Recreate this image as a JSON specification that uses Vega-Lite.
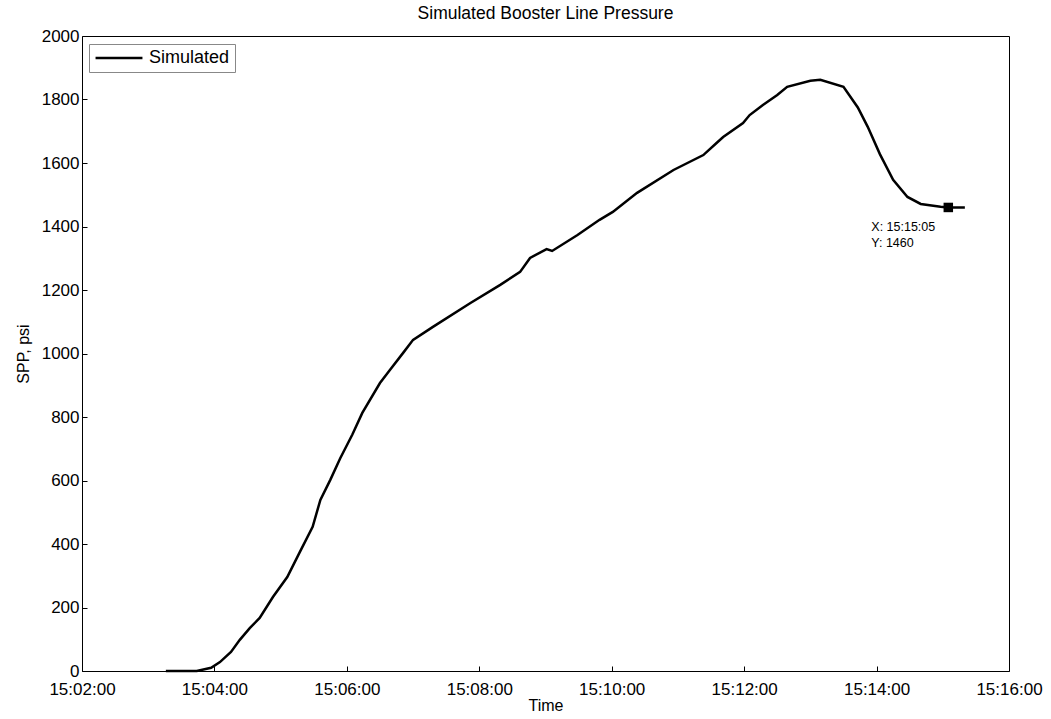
{
  "$schema": "https://vega.github.io/schema/vega-lite/v6.json",
  "width": 927,
  "height": 635,
  "autosize": "none",
  "padding": {"left": 82, "top": 36, "right": 42, "bottom": 48},
  "background": "white",
  "config": {
    "font": "Liberation Sans",
    "view": {"stroke": "black", "strokeWidth": 1},
    "axis": {"grid": false, "domain": false, "labelColor": "black", "titleColor": "black", "tickColor": "black", "labelFontSize": 17, "titleFontSize": 16, "titleFontWeight": "normal"}
  },
  "title": {"text": "Simulated Booster Line Pressure", "fontSize": 17.5, "fontWeight": "normal", "offset": 5, "anchor": "middle", "color": "black"},
  "datasets": {
    "sim": [
      {"time": "2000-01-01T15:03:16Z", "psi": 0, "series": "Simulated"},
      {"time": "2000-01-01T15:03:44Z", "psi": 0, "series": "Simulated"},
      {"time": "2000-01-01T15:03:57Z", "psi": 10, "series": "Simulated"},
      {"time": "2000-01-01T15:04:05Z", "psi": 28, "series": "Simulated"},
      {"time": "2000-01-01T15:04:15Z", "psi": 60, "series": "Simulated"},
      {"time": "2000-01-01T15:04:23Z", "psi": 98, "series": "Simulated"},
      {"time": "2000-01-01T15:04:32Z", "psi": 135, "series": "Simulated"},
      {"time": "2000-01-01T15:04:41Z", "psi": 167, "series": "Simulated"},
      {"time": "2000-01-01T15:04:53Z", "psi": 233, "series": "Simulated"},
      {"time": "2000-01-01T15:05:06Z", "psi": 296, "series": "Simulated"},
      {"time": "2000-01-01T15:05:17Z", "psi": 372, "series": "Simulated"},
      {"time": "2000-01-01T15:05:29Z", "psi": 454, "series": "Simulated"},
      {"time": "2000-01-01T15:05:36Z", "psi": 539, "series": "Simulated"},
      {"time": "2000-01-01T15:05:45Z", "psi": 602, "series": "Simulated"},
      {"time": "2000-01-01T15:05:54Z", "psi": 670, "series": "Simulated"},
      {"time": "2000-01-01T15:06:05Z", "psi": 745, "series": "Simulated"},
      {"time": "2000-01-01T15:06:14Z", "psi": 813, "series": "Simulated"},
      {"time": "2000-01-01T15:06:30Z", "psi": 907, "series": "Simulated"},
      {"time": "2000-01-01T15:06:39Z", "psi": 948, "series": "Simulated"},
      {"time": "2000-01-01T15:06:51Z", "psi": 1002, "series": "Simulated"},
      {"time": "2000-01-01T15:07:00Z", "psi": 1043, "series": "Simulated"},
      {"time": "2000-01-01T15:07:18Z", "psi": 1084, "series": "Simulated"},
      {"time": "2000-01-01T15:07:52Z", "psi": 1159, "series": "Simulated"},
      {"time": "2000-01-01T15:08:19Z", "psi": 1216, "series": "Simulated"},
      {"time": "2000-01-01T15:08:37Z", "psi": 1257, "series": "Simulated"},
      {"time": "2000-01-01T15:08:46Z", "psi": 1301, "series": "Simulated"},
      {"time": "2000-01-01T15:09:01Z", "psi": 1329, "series": "Simulated"},
      {"time": "2000-01-01T15:09:06Z", "psi": 1323, "series": "Simulated"},
      {"time": "2000-01-01T15:09:29Z", "psi": 1373, "series": "Simulated"},
      {"time": "2000-01-01T15:09:49Z", "psi": 1421, "series": "Simulated"},
      {"time": "2000-01-01T15:10:01Z", "psi": 1446, "series": "Simulated"},
      {"time": "2000-01-01T15:10:23Z", "psi": 1506, "series": "Simulated"},
      {"time": "2000-01-01T15:10:56Z", "psi": 1578, "series": "Simulated"},
      {"time": "2000-01-01T15:11:23Z", "psi": 1625, "series": "Simulated"},
      {"time": "2000-01-01T15:11:35Z", "psi": 1663, "series": "Simulated"},
      {"time": "2000-01-01T15:11:41Z", "psi": 1682, "series": "Simulated"},
      {"time": "2000-01-01T15:11:59Z", "psi": 1726, "series": "Simulated"},
      {"time": "2000-01-01T15:12:05Z", "psi": 1751, "series": "Simulated"},
      {"time": "2000-01-01T15:12:17Z", "psi": 1783, "series": "Simulated"},
      {"time": "2000-01-01T15:12:30Z", "psi": 1814, "series": "Simulated"},
      {"time": "2000-01-01T15:12:39Z", "psi": 1840, "series": "Simulated"},
      {"time": "2000-01-01T15:13:00Z", "psi": 1859, "series": "Simulated"},
      {"time": "2000-01-01T15:13:09Z", "psi": 1862, "series": "Simulated"},
      {"time": "2000-01-01T15:13:30Z", "psi": 1840, "series": "Simulated"},
      {"time": "2000-01-01T15:13:43Z", "psi": 1775, "series": "Simulated"},
      {"time": "2000-01-01T15:13:52Z", "psi": 1714, "series": "Simulated"},
      {"time": "2000-01-01T15:14:03Z", "psi": 1628, "series": "Simulated"},
      {"time": "2000-01-01T15:14:15Z", "psi": 1547, "series": "Simulated"},
      {"time": "2000-01-01T15:14:28Z", "psi": 1493, "series": "Simulated"},
      {"time": "2000-01-01T15:14:40Z", "psi": 1471, "series": "Simulated"},
      {"time": "2000-01-01T15:14:58Z", "psi": 1462, "series": "Simulated"},
      {"time": "2000-01-01T15:15:05Z", "psi": 1460, "series": "Simulated"},
      {"time": "2000-01-01T15:15:20Z", "psi": 1460, "series": "Simulated"}
    ],
    "tip": [
      {"time": "2000-01-01T15:15:05Z", "psi": 1460, "label": "X: 15:15:05\nY: 1460"}
    ]
  },
  "layer": [
    {
      "data": {"name": "sim"},
      "mark": {"type": "line", "strokeWidth": 2.5},
      "encoding": {
        "x": {
          "field": "time", "type": "temporal",
          "scale": {"type": "utc", "domain": [
            {"year": 2000, "month": 1, "date": 1, "hours": 15, "minutes": 2, "utc": true},
            {"year": 2000, "month": 1, "date": 1, "hours": 15, "minutes": 16, "utc": true}
          ]},
          "axis": {
            "title": "Time",
            "labelExpr": "utcFormat(datum.value, '%H:%M:%S')",
            "values": [
              {"year": 2000, "month": 1, "date": 1, "hours": 15, "minutes": 2, "utc": true},
              {"year": 2000, "month": 1, "date": 1, "hours": 15, "minutes": 4, "utc": true},
              {"year": 2000, "month": 1, "date": 1, "hours": 15, "minutes": 6, "utc": true},
              {"year": 2000, "month": 1, "date": 1, "hours": 15, "minutes": 8, "utc": true},
              {"year": 2000, "month": 1, "date": 1, "hours": 15, "minutes": 10, "utc": true},
              {"year": 2000, "month": 1, "date": 1, "hours": 15, "minutes": 12, "utc": true},
              {"year": 2000, "month": 1, "date": 1, "hours": 15, "minutes": 14, "utc": true},
              {"year": 2000, "month": 1, "date": 1, "hours": 15, "minutes": 16, "utc": true}
            ],
            "tickSize": -5, "labelPadding": 15, "labelFlush": false, "labelOverlap": false, "titlePadding": 0
          }
        },
        "y": {
          "field": "psi", "type": "quantitative",
          "scale": {"domain": [0, 2000], "nice": false, "zero": true},
          "axis": {"title": "SPP, psi", "format": "d", "values": [0, 200, 400, 600, 800, 1000, 1200, 1400, 1600, 1800, 2000], "tickSize": -5, "labelPadding": 8, "titlePadding": 10}
        },
        "color": {
          "field": "series", "type": "nominal",
          "scale": {"range": ["black"]},
          "legend": {
            "title": null, "orient": "none", "legendX": 7, "legendY": 8,
            "symbolType": "stroke", "symbolSize": 2200, "symbolStrokeWidth": 2.5,
            "clipHeight": 18,
            "labelFontSize": 18, "labelColor": "black", "labelOffset": 5,
            "strokeColor": "#888", "fillColor": "white", "padding": 5
          }
        }
      }
    },
    {
      "data": {"name": "tip"},
      "mark": {"type": "point", "shape": "square", "filled": true, "size": 90, "color": "black", "opacity": 1},
      "encoding": {
        "x": {"field": "time", "type": "temporal"},
        "y": {"field": "psi", "type": "quantitative"}
      }
    },
    {
      "data": {"name": "tip"},
      "mark": {"type": "text", "align": "left", "baseline": "middle", "dx": -77, "dy": 20, "fontSize": 12.5, "lineBreak": "\n", "lineHeight": 16, "color": "black"},
      "encoding": {
        "x": {"field": "time", "type": "temporal"},
        "y": {"field": "psi", "type": "quantitative"},
        "text": {"field": "label"}
      }
    }
  ]
}
